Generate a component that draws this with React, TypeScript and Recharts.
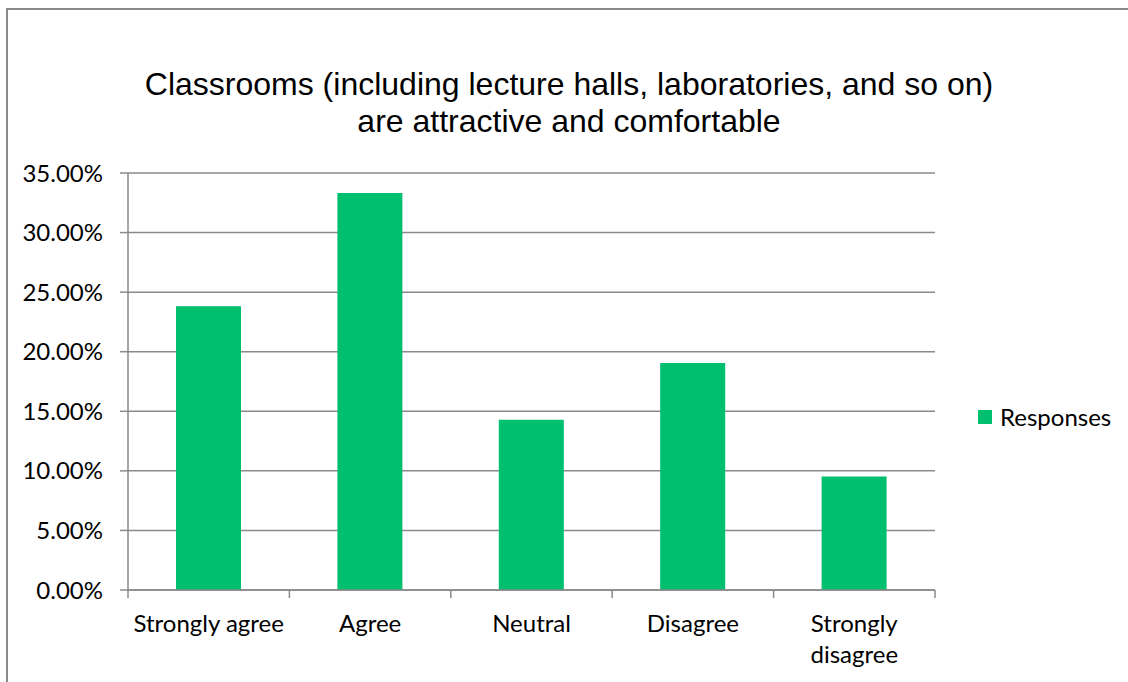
import React from 'react';
import { BarChart, Bar, XAxis, YAxis, CartesianGrid } from 'recharts';

const categories = ['Strongly agree', 'Agree', 'Neutral', 'Disagree', 'Strongly disagree'];
const responses = [23.81, 33.33, 14.29, 19.05, 9.52];
const yTicks = [0, 5, 10, 15, 20, 25, 30, 35];
const boundaryTicks = [0, 1, 2, 3, 4, 5];

const BAR_COLOR = '#00BF6F';
const LINE_COLOR = '#8a8a8a';
const TICK_FONT = 'Lato, "Open Sans", sans-serif';

const data = categories.map((name, i) => ({ name, value: responses[i], pos: i + 0.5 }));

// Excel wraps the long label onto two lines
function splitLabel(label: string): string[] {
  if (label.length <= 15) return [label];
  const cut = label.lastIndexOf(' ');
  return [label.slice(0, cut), label.slice(cut + 1)];
}

function CategoryTick(props: any) {
  const { x, y, payload } = props;
  const lines = splitLabel(String(payload.value));
  return (
    <text x={x} y={y + 34} textAnchor="middle" style={{ fontFamily: TICK_FONT, fontSize: 24, fill: '#000' }}>
      {lines.map((line, i) => (
        <tspan key={i} x={x} dy={i === 0 ? 0 : 31}>
          {line}
        </tspan>
      ))}
    </text>
  );
}

const EmptyTick = () => <g />;

export default function App() {
  return (
    <div style={{ position: 'absolute', left: 0, top: 0, width: 1128, height: 682, background: '#fff', overflow: 'hidden' }}>
      <div
        style={{
          position: 'absolute',
          left: 6,
          top: 8,
          width: 1140,
          height: 700,
          border: '2px solid #8a8a8a',
          boxSizing: 'border-box',
        }}
      />
      <div
        style={{
          position: 'absolute',
          left: 69,
          top: 66,
          width: 1000,
          textAlign: 'center',
          fontFamily: '"Liberation Sans", Arial, sans-serif',
          fontSize: 32,
          lineHeight: '37px',
          color: '#000',
        }}
      >
        Classrooms (including lecture halls, laboratories, and so on)
        <br />
        are attractive and comfortable
      </div>
      <div style={{ position: 'absolute', left: 0, top: 0 }}>
        <BarChart
          width={1128}
          height={682}
          data={data}
          margin={{ top: 173, right: 193, bottom: 0, left: 0 }}
          barSize={65}
        >
          <CartesianGrid horizontal vertical={false} stroke={LINE_COLOR} strokeWidth={1.5} />
          <XAxis
            xAxisId="bounds"
            dataKey="pos"
            type="number"
            domain={[0, 5]}
            ticks={boundaryTicks}
            interval={0}
            height={8}
            tick={<EmptyTick />}
            tickSize={8}
            tickMargin={0}
            tickLine={{ stroke: LINE_COLOR, strokeWidth: 1.5 }}
            axisLine={{ stroke: LINE_COLOR, strokeWidth: 1.5 }}
          />
          <XAxis
            xAxisId="cat"
            dataKey="name"
            height={84}
            axisLine={false}
            tickLine={false}
            tickSize={0}
            tickMargin={0}
            interval={0}
            tick={<CategoryTick />}
          />
          <YAxis
            width={128}
            domain={[0, 35]}
            ticks={yTicks}
            interval={0}
            tickFormatter={(v: number) => v.toFixed(2) + '%'}
            tickSize={8}
            tickMargin={17}
            tickLine={{ stroke: LINE_COLOR, strokeWidth: 1.5 }}
            axisLine={{ stroke: LINE_COLOR, strokeWidth: 1.5 }}
            tick={{ fill: '#000', fontSize: 24, fontFamily: TICK_FONT }}
          />
          <Bar xAxisId="cat" dataKey="value" name="Responses" fill={BAR_COLOR} isAnimationActive={false} />
        </BarChart>
      </div>
      <div
        style={{
          position: 'absolute',
          left: 978,
          top: 402,
          display: 'flex',
          alignItems: 'center',
          fontFamily: TICK_FONT,
          fontSize: 24,
          lineHeight: '30px',
          color: '#000',
        }}
      >
        <span style={{ display: 'inline-block', width: 14, height: 14, background: BAR_COLOR, marginRight: 8 }} />
        Responses
      </div>
    </div>
  );
}
